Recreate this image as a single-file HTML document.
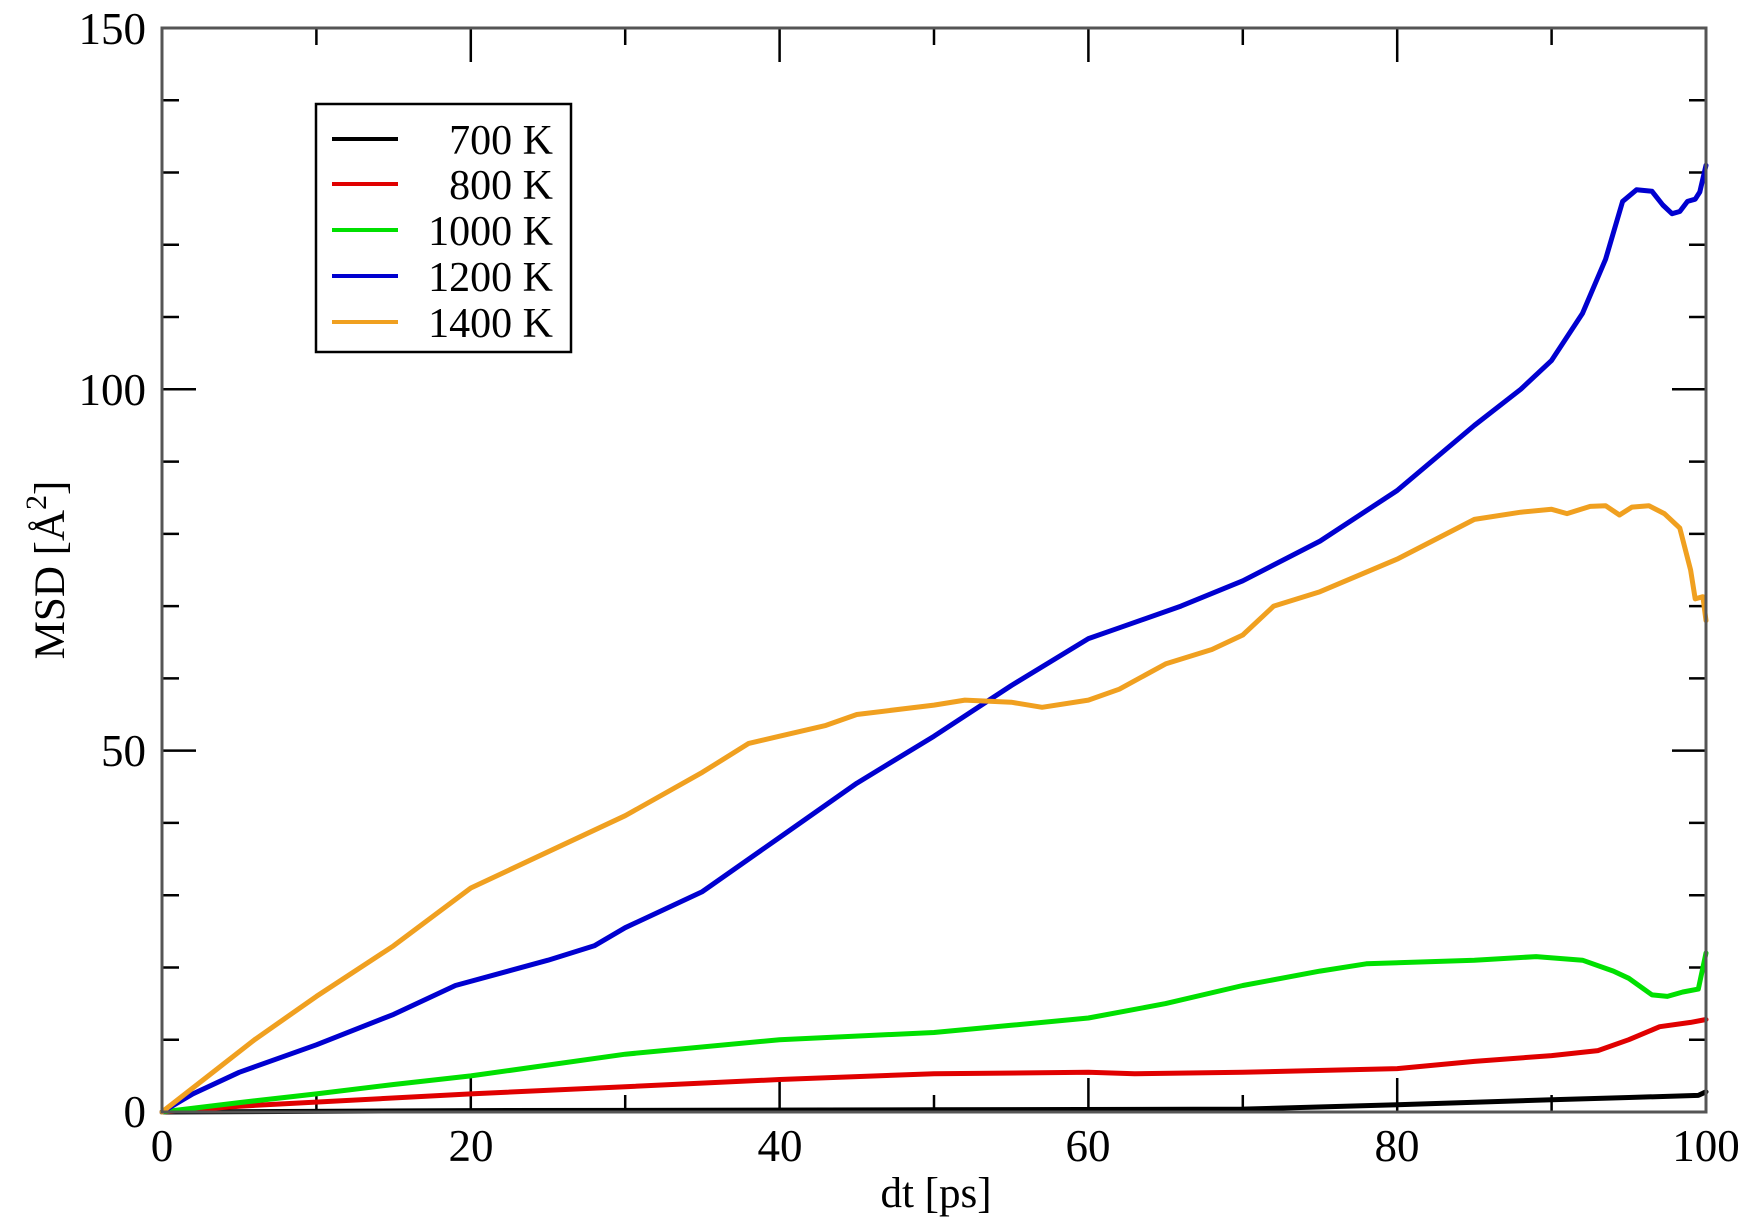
<!DOCTYPE html>
<html><head><meta charset="utf-8"><style>
html,body{margin:0;padding:0;background:#fff;}
svg{display:block;font-family:"Liberation Serif",serif;}
</style></head><body>
<svg id="s" width="1752" height="1230" viewBox="0 0 1752 1230" xmlns="http://www.w3.org/2000/svg">
<rect width="1752" height="1230" fill="#fff"/>
<g id="ticks" stroke="#000" stroke-width="2.5"></g>
<g id="series" fill="none" stroke-width="5" stroke-linejoin="round" stroke-linecap="round"></g>
<rect x="162" y="28" width="1544" height="1084" fill="none" stroke="#555" stroke-width="3"/>
<g font-size="45" fill="#000">
<text x="162" y="1161" text-anchor="middle">0</text>
<text x="471" y="1161" text-anchor="middle">20</text>
<text x="780" y="1161" text-anchor="middle">40</text>
<text x="1088" y="1161" text-anchor="middle">60</text>
<text x="1397" y="1161" text-anchor="middle">80</text>
<text x="1706" y="1161" text-anchor="middle">100</text>
<text x="146" y="1127" text-anchor="end">0</text>
<text x="146" y="766" text-anchor="end">50</text>
<text x="146" y="405" text-anchor="end">100</text>
<text x="146" y="44" text-anchor="end">150</text>
</g>
<g font-size="43" fill="#000">
<text x="936" y="1207" text-anchor="middle">dt [ps]</text>
<text transform="translate(64,570) rotate(-90)" text-anchor="middle">MSD [Å<tspan dy="-18" font-size="30">2</tspan><tspan dy="18">]</tspan></text>
</g>
<rect x="316" y="104" width="255" height="248" fill="#fff" stroke="#000" stroke-width="2.5"/>
<g stroke-width="4">
<line x1="332" y1="139" x2="398" y2="139" stroke="#000"/>
<line x1="332" y1="184" x2="398" y2="184" stroke="#e00000"/>
<line x1="332" y1="230" x2="398" y2="230" stroke="#00e000"/>
<line x1="332" y1="276" x2="398" y2="276" stroke="#0000d0"/>
<line x1="332" y1="322" x2="398" y2="322" stroke="#f0a020"/>
</g>
<g font-size="42" text-anchor="end">
<text x="553" y="154">700 K</text>
<text x="553" y="199">800 K</text>
<text x="553" y="245">1000 K</text>
<text x="553" y="291">1200 K</text>
<text x="553" y="337">1400 K</text>
</g>
</svg>
<script>
var X=function(t){return 162+t*15.44},Y=function(v){return 1112-v*7.227};
var tk=document.getElementById('ticks'),h='';
for(var t=0;t<=100;t+=10){var x=X(t),L=t%20==0?34:17;h+='<line x1="'+x+'" y1="1112" x2="'+x+'" y2="'+(1112-L)+'"/><line x1="'+x+'" y1="28" x2="'+x+'" y2="'+(28+L)+'"/>';}
for(var v=0;v<=150;v+=10){var y=Y(v),L=v%50==0?34:17;h+='<line x1="162" y1="'+y+'" x2="'+(162+L)+'" y2="'+y+'"/><line x1="1706" y1="'+y+'" x2="'+(1706-L)+'" y2="'+y+'"/>';}
tk.innerHTML=h;
var S=[
['#000',[[0,0],[20,0.2],[50,0.3],[70,0.4],[80,1],[90,1.7],[95,2],[99.5,2.3],[100,2.8]]],
['#e00000',[[0,0],[5,0.8],[20,2.5],[30,3.5],[40,4.5],[50,5.3],[60,5.5],[63,5.3],[70,5.5],[80,6],[85,7],[90,7.8],[93,8.5],[95,10],[97,11.8],[99,12.4],[100,12.8]]],
['#00e000',[[0,0],[5,1.3],[10,2.5],[15,3.8],[20,5],[30,8],[40,10],[50,11],[55,12],[60,13],[65,15],[70,17.5],[75,19.5],[78,20.5],[85,21],[89,21.5],[92,21],[94,19.5],[95,18.5],[96.5,16.2],[97.5,16],[98.5,16.6],[99.5,17],[100,22]]],
['#0000d0',[[0,0],[2,2.5],[5,5.5],[10,9.3],[15,13.5],[19,17.5],[25,21],[28,23],[30,25.5],[35,30.5],[40,38],[45,45.5],[50,52],[55,59],[60,65.5],[62,67],[66,70],[70,73.5],[75,79],[80,86],[85,95],[88,100],[90,104],[92,110.5],[93.5,118],[94.6,126],[95.5,127.6],[96.5,127.4],[97.2,125.5],[97.8,124.3],[98.3,124.6],[98.8,126],[99.3,126.3],[99.6,127.3],[100,131]]],
['#f0a020',[[0,0],[3,5],[6,10],[10,16],[15,23],[20,31],[25,36],[30,41],[35,47],[38,51],[40,52],[43,53.5],[45,55],[50,56.3],[52,57],[55,56.7],[57,56],[60,57],[62,58.5],[65,62],[68,64],[70,66],[72,70],[75,72],[80,76.5],[85,82],[88,83],[90,83.4],[91,82.8],[92.5,83.8],[93.5,83.9],[94.4,82.6],[95.2,83.7],[96.3,83.9],[97.3,82.8],[98.3,80.8],[99,75],[99.3,71],[99.8,71.3],[100,68]]]
];
var g=document.getElementById('series'),o='';
S.forEach(function(s){var pts=s[1].map(function(p){return X(p[0]).toFixed(1)+','+Y(p[1]).toFixed(1)}).join(' ');o+='<polyline stroke="'+s[0]+'" points="'+pts+'"/>';});
g.innerHTML=o;
</script>
</body></html>
